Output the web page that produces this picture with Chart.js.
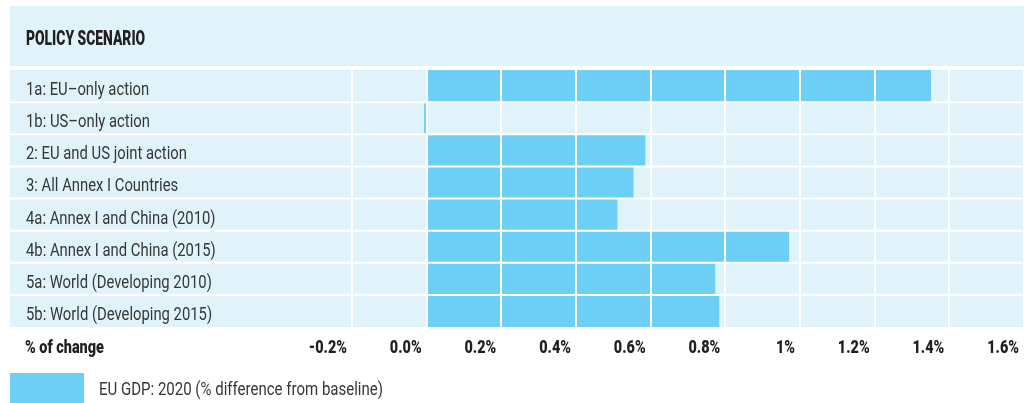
<!DOCTYPE html>
<html>
<head>
<meta charset="utf-8">
<script src="https://cdn.jsdelivr.net/npm/chart.js@4"></script>
<style>
  html, body { margin: 0; padding: 0; background: #fff; }
  #wrap { width: 1029px; height: 403px; }
</style>
</head>
<body>
<div id="wrap"><canvas id="chart" width="1029" height="403"></canvas></div>
<script>
const scenarios = [
  '1a: EU\u2013only action',
  '1b: US\u2013only action',
  '2: EU and US joint action',
  '3: All Annex I Countries',
  '4a: Annex I and China (2010)',
  '4b: Annex I and China (2015)',
  '5a: World (Developing 2010)',
  '5b: World (Developing 2015)'
];
const gdpChange = [1.35, -0.006, 0.585, 0.553, 0.51, 0.97, 0.772, 0.783];
const tickLabels = ['-0.2%', '0.0%', '0.2%', '0.4%', '0.6%', '0.8%', '1%', '1.2%', '1.4%', '1.6%'];
const seriesLabel = 'EU GDP: 2020 (% difference from baseline)';
const headerText = 'POLICY SCENARIO';
const axisText = '% of change';

const PANEL = '#e0f3fa';
const BAR = '#6dcff6';
const INK = '#231f20';
const GREY = '#363636';

// no condensed face installed, so squeeze Roboto horizontally
function narrowText(ctx, text, x, y, font, squeeze, align) {
  ctx.save();
  ctx.font = font;
  ctx.textBaseline = 'alphabetic';
  ctx.textAlign = 'left';
  const w = ctx.measureText(text).width * squeeze;
  let x0 = x;
  if (align === 'right') x0 = x - w;
  ctx.translate(x0, y);
  ctx.scale(squeeze, 1);
  ctx.fillText(text, 0, 0);
  ctx.restore();
}

const panelPlugin = {
  id: 'panel',
  beforeDraw(chart) {
    const ctx = chart.ctx;
    const area = chart.chartArea;
    const left = 10;
    ctx.save();
    ctx.fillStyle = PANEL;
    ctx.fillRect(left, 6, area.right - left, area.top - 10);
    ctx.fillRect(left, area.top, area.right - left, area.bottom - area.top);
    ctx.restore();
  },
  afterDatasetsDraw(chart) {
    const ctx = chart.ctx;
    const area = chart.chartArea;
    const y = chart.scales.y;
    ctx.save();
    ctx.strokeStyle = '#ffffff';
    ctx.lineWidth = 2;
    for (let i = 0; i < scenarios.length - 1; i++) {
      const yy = (y.getPixelForValue(i) + y.getPixelForValue(i + 1)) / 2;
      ctx.beginPath();
      ctx.moveTo(10, yy);
      ctx.lineTo(area.right, yy);
      ctx.stroke();
    }
    ctx.restore();
  },
  afterDraw(chart) {
    const ctx = chart.ctx;
    const area = chart.chartArea;
    const x = chart.scales.x;
    const y = chart.scales.y;

    ctx.fillStyle = INK;
    narrowText(ctx, headerText, 26, area.top - 25, '900 21px Roboto', 0.66);
    narrowText(ctx, axisText, 25, area.bottom + 26, '900 19px Roboto', 0.76);

    // category labels
    ctx.fillStyle = GREY;
    chart.data.labels.forEach((lab, i) => {
      narrowText(ctx, lab, 26, y.getPixelForValue(i) + 9, '19px Roboto', 0.78);
    });

    // x tick labels, right edge just left of each gridline
    ctx.fillStyle = INK;
    x.ticks.forEach((t, i) => {
      narrowText(ctx, tickLabels[i], x.getPixelForValue(t.value) - 5, area.bottom + 26,
        '900 19px Roboto', 0.76, 'right');
    });

    // legend
    const ds = chart.data.datasets[0];
    const top = area.bottom + 46;
    ctx.save();
    ctx.fillStyle = ds.backgroundColor;
    ctx.fillRect(10, top, 74, 30);
    ctx.restore();
    ctx.fillStyle = GREY;
    narrowText(ctx, ds.label, 99, top + 22, '19px Roboto', 0.79);
  }
};

new Chart(document.getElementById('chart'), {
  type: 'bar',
  data: {
    labels: scenarios,
    datasets: [{
      label: seriesLabel,
      data: gdpChange,
      backgroundColor: BAR,
      borderWidth: 0,
      barPercentage: 1,
      categoryPercentage: 1
    }]
  },
  options: {
    indexAxis: 'y',
    responsive: false,
    animation: false,
    layout: { padding: { top: 70, left: 24, right: 5, bottom: 44 } },
    plugins: {
      legend: { display: false },
      tooltip: { enabled: false }
    },
    scales: {
      x: {
        min: -0.2,
        max: 1.6,
        afterFit(scale) { scale.height = 32; },
        border: { display: false },
        // gridlines sit on top of the bars in the original
        grid: { color: '#ffffff', lineWidth: 2, drawTicks: false, z: 1 },
        ticks: { stepSize: 0.2, display: false }
      },
      y: {
        afterFit(scale) { scale.width = 328; },
        border: { display: false },
        grid: { display: false },
        ticks: { display: false }
      }
    }
  },
  plugins: [panelPlugin]
});
</script>
</body>
</html>
